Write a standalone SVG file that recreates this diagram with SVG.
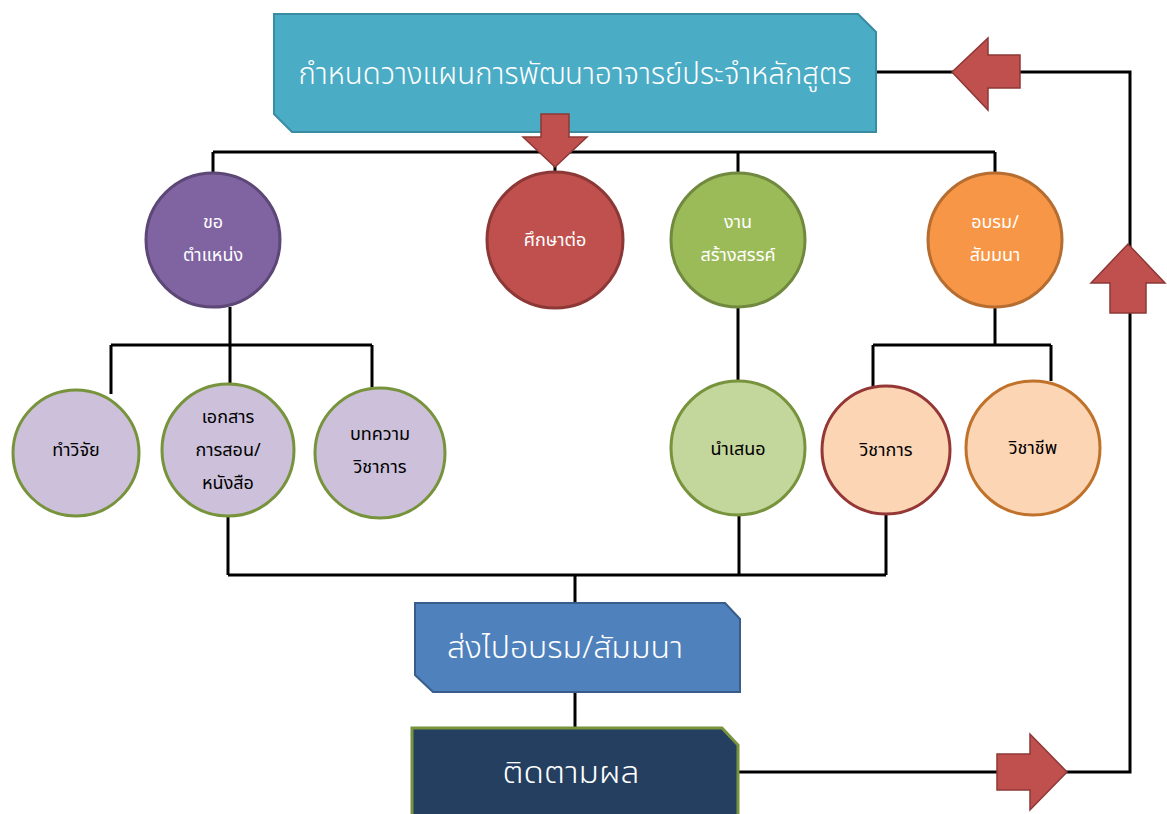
<svg xmlns="http://www.w3.org/2000/svg" width="1167" height="814" viewBox="0 0 1167 814">
<style>
.ln{stroke:#000;stroke-width:3;fill:none}
.arr{fill:#C0504D;stroke:#8C3836;stroke-width:1.5}
text{font-family:"Noto Sans Thai","Noto Sans","DejaVu Sans",sans-serif;text-anchor:middle}
.wt{fill:#fff}
.bk{fill:#000}
.c1{font-size:18px}
.big{font-size:31px;font-weight:300}
.c{stroke-width:3}
</style>
<rect x="0" y="0" width="1167" height="814" fill="#fff"/>
<g id="connectors">
<path class="ln" d="M213,152 H995 M213,152 V173 M555,152 V172 M738,152 V173 M995,152 V173"/>
<path class="ln" d="M230,307 V345 M111,345 H372 M111,345 V394 M230,345 V384 M372,345 V388"/>
<path class="ln" d="M738,307 V381"/>
<path class="ln" d="M995,307 V345 M873,345 H1051 M873,345 V386 M1051,345 V381"/>
<path class="ln" d="M228,516 V575 M739,515 V575 M886,514 V575 M228,575 H886 M575,575 V603"/>
<path class="ln" d="M575,692 V728"/>
<path class="ln" d="M738,772 H1130 V72 H876"/>
</g>
<g id="top">
<path d="M274,14 H858 L876,32 V132 H292 L274,114 Z" fill="#4BACC6" stroke="#3A8CA3" stroke-width="2"/>
<text class="wt" x="575" y="84" font-size="31" font-weight="300" textLength="553" lengthAdjust="spacingAndGlyphs">กำหนดวางแผนการพัฒนาอาจารย์ประจำหลักสูตร</text>
</g>
<g id="arrow-down"><path class="arr" d="M541,114 H569 V137 H587 L555,167 L523,137 H541 Z"/></g>
<g id="n-khao">
<circle class="c" cx="213" cy="240" r="67" fill="#8064A2" stroke="#5C4776"/>
<text class="wt c1" x="213" y="228">ขอ</text><text class="wt c1" x="213" y="261">ตำแหน่ง</text>
</g>
<g id="n-suksa">
<circle class="c" cx="555" cy="240" r="68" fill="#C0504D" stroke="#8C3836"/>
<text class="wt c1" x="555" y="246">ศึกษาต่อ</text>
</g>
<g id="n-ngan">
<circle class="c" cx="738" cy="240" r="67" fill="#9BBB59" stroke="#71893F"/>
<text class="wt c1" x="738" y="228">งาน</text><text class="wt c1" x="738" y="261">สร้างสรรค์</text>
</g>
<g id="n-obrom">
<circle class="c" cx="995" cy="240" r="67" fill="#F79646" stroke="#B66D31"/>
<text class="wt c1" x="995" y="228">อบรม/</text><text class="wt c1" x="995" y="261">สัมมนา</text>
</g>
<g id="n-wijai">
<circle class="c" cx="76" cy="453" r="63" fill="#CCC0DA" stroke="#77933C"/>
<text class="bk c1" x="76" y="456">ทำวิจัย</text>
</g>
<g id="n-ekasan">
<circle class="c" cx="228" cy="450" r="66" fill="#CCC0DA" stroke="#77933C"/>
<text class="bk c1" x="228" y="423">เอกสาร</text><text class="bk c1" x="228" y="456">การสอน/</text><text class="bk c1" x="228" y="489">หนังสือ</text>
</g>
<g id="n-botkwam">
<circle class="c" cx="380" cy="453" r="65" fill="#CCC0DA" stroke="#77933C"/>
<text class="bk c1" x="380" y="440">บทความ</text><text class="bk c1" x="380" y="473">วิชาการ</text>
</g>
<g id="n-namsenoe">
<circle class="c" cx="738" cy="448" r="67" fill="#C3D69B" stroke="#77933C"/>
<text class="bk c1" x="738" y="455">นำเสนอ</text>
</g>
<g id="n-wichakan">
<circle class="c" cx="886" cy="450" r="64" fill="#FCD5B5" stroke="#953735"/>
<text class="bk c1" x="886" y="456">วิชาการ</text>
</g>
<g id="n-wichachip">
<circle class="c" cx="1033" cy="448" r="67" fill="#FCD5B5" stroke="#C0712A"/>
<text class="bk c1" x="1033" y="454">วิชาชีพ</text>
</g>
<g id="n-song">
<path d="M415,603 H725 L740,619 V692 H433 L415,675 Z" fill="#4F81BD" stroke="#385D8A" stroke-width="2"/>
<text class="wt big" x="565" y="658" textLength="236" lengthAdjust="spacingAndGlyphs">ส่งไปอบรม/สัมมนา</text>
</g>
<g id="n-tidtam">
<path d="M412,728 H722 L738,745 V830 H412 Z" fill="#243F60" stroke="#77933C" stroke-width="3"/>
<text class="wt big" x="571" y="783" textLength="137" lengthAdjust="spacingAndGlyphs">ติดตามผล</text>
</g>
<g id="arrow-right"><path class="arr" d="M997,754 H1030 V734 L1067,772 L1030,810 V790 H997 Z"/></g>
<g id="arrow-up"><path class="arr" d="M1110,313 V283 H1091 L1128,244 L1165,283 H1146 V313 Z"/></g>
<g id="arrow-left"><path class="arr" d="M1020,55 V88 H988 V110 L952,72 L988,38 V55 Z"/></g>
</svg>
